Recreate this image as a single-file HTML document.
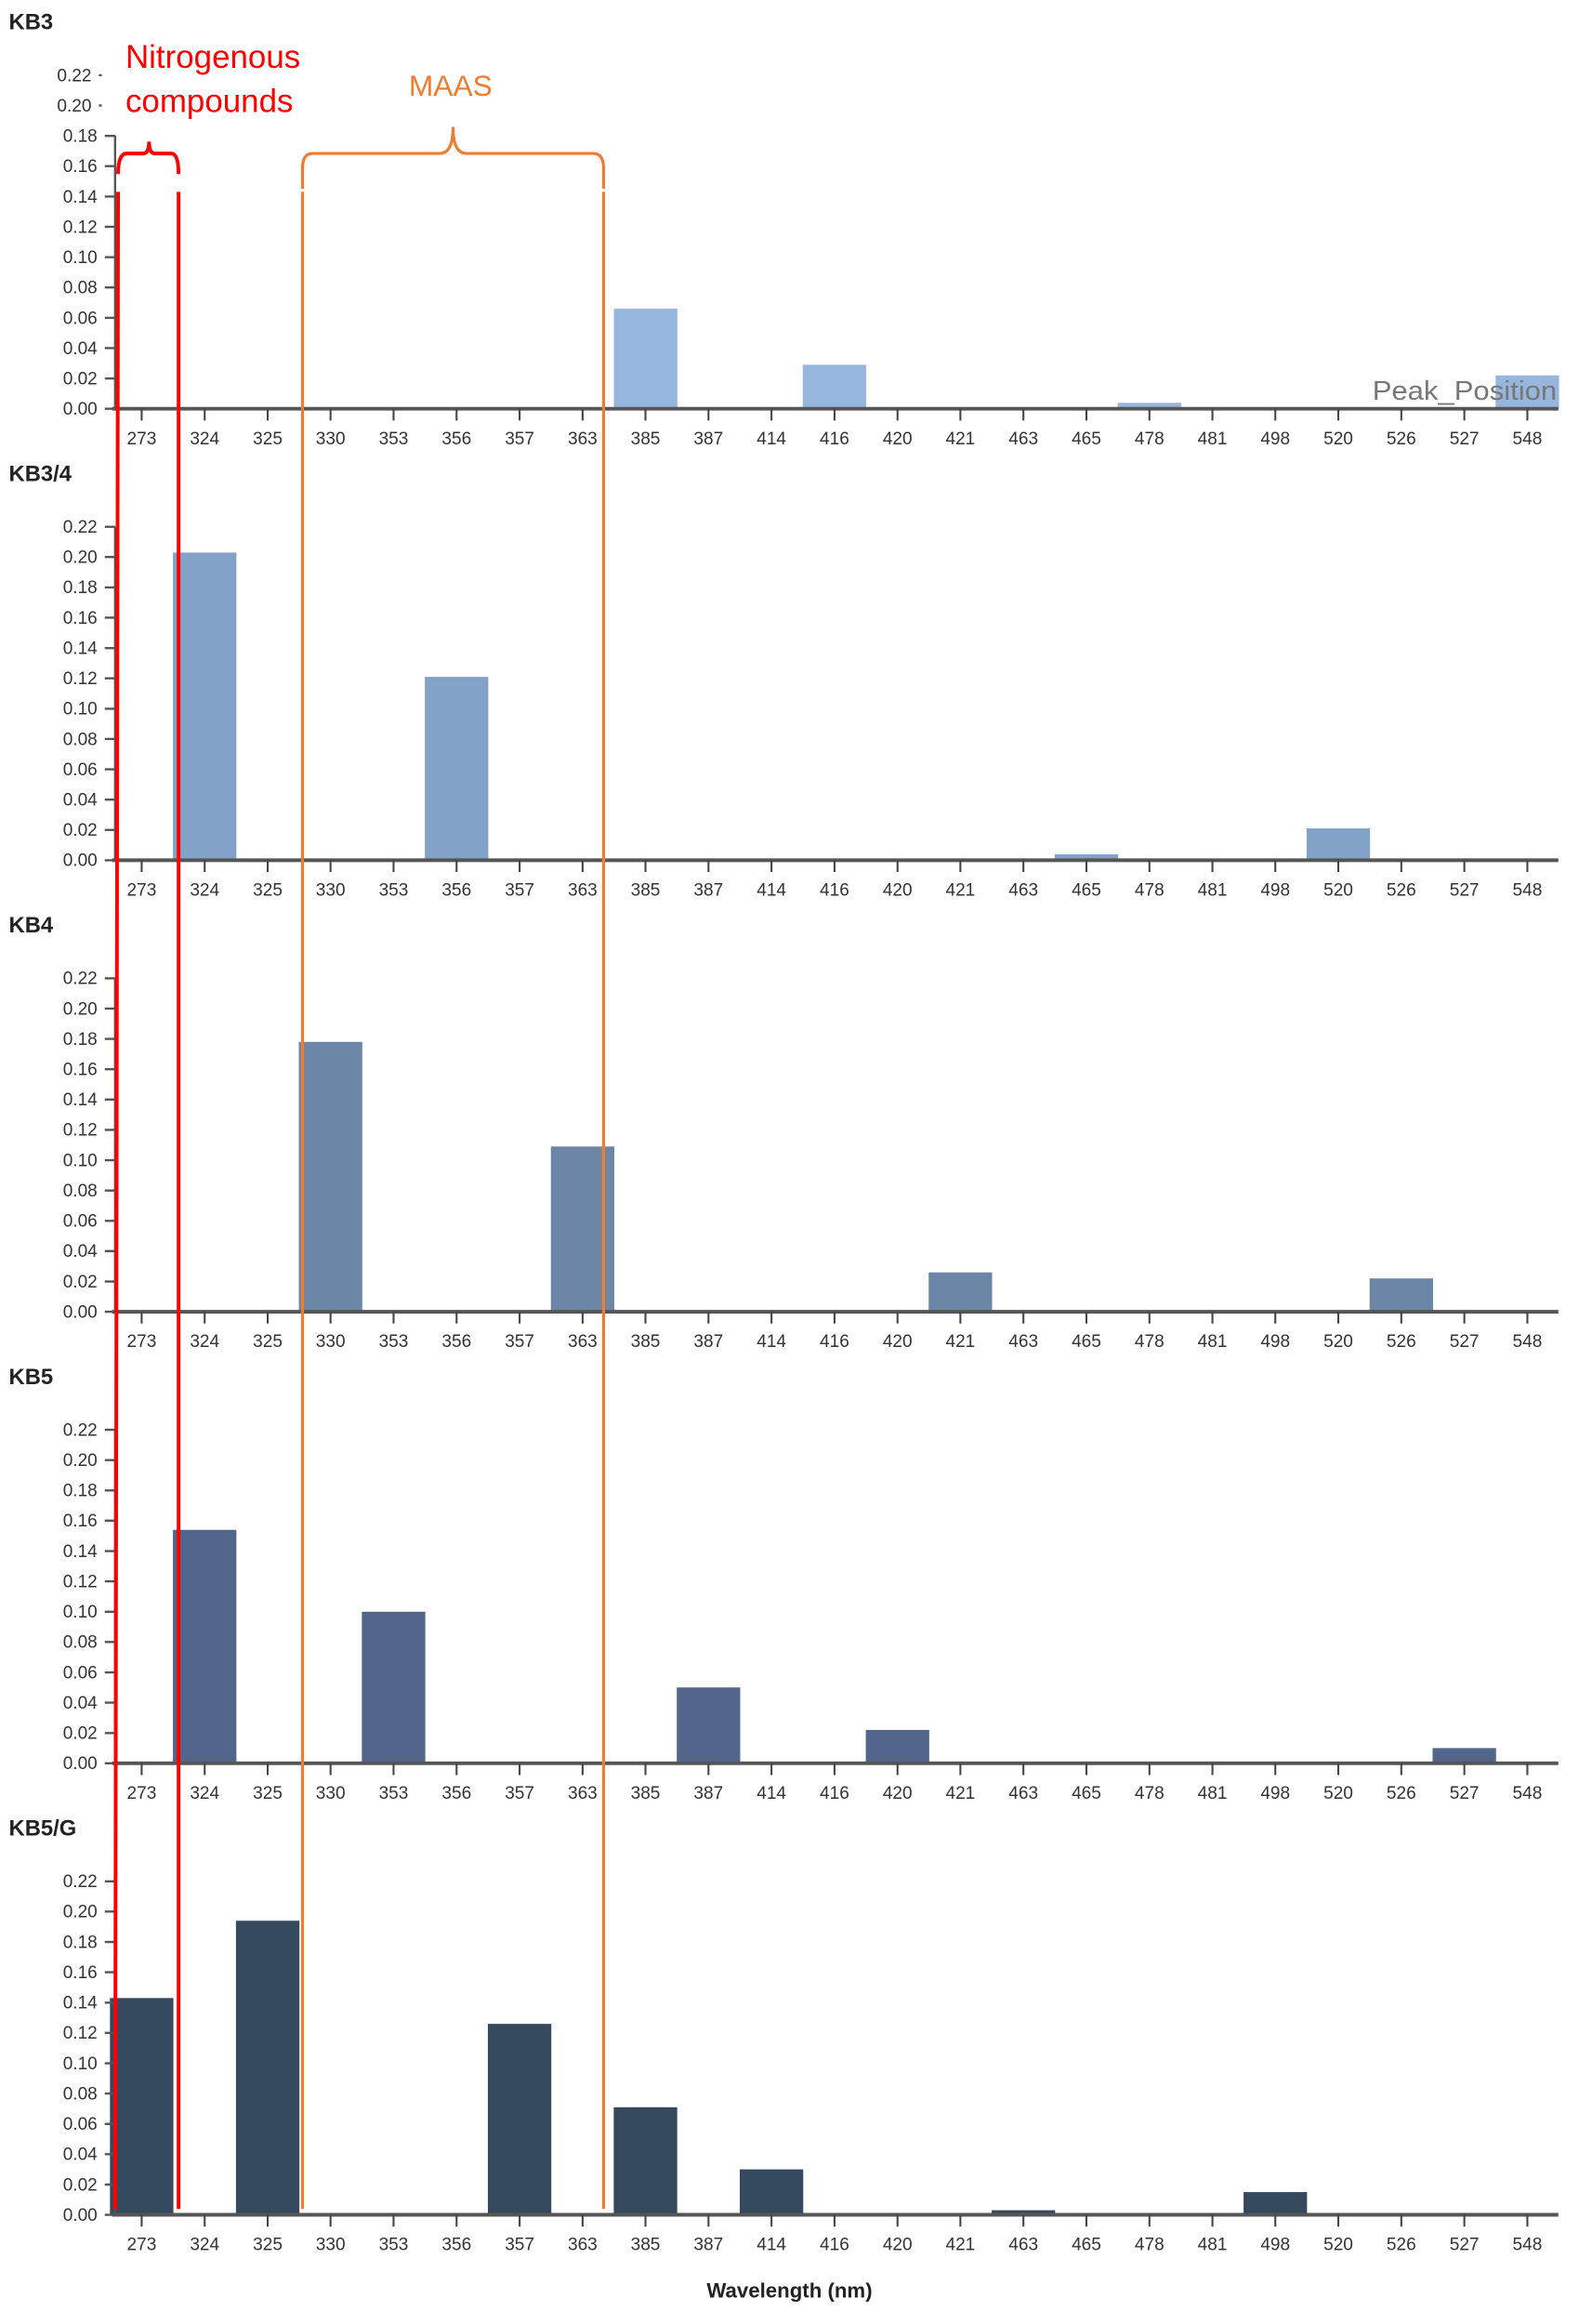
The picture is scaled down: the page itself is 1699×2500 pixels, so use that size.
<!DOCTYPE html>
<html><head><meta charset="utf-8"><style>
html,body{margin:0;padding:0;background:#fff;}
svg{display:block;}
text{font-family:"Liberation Sans",sans-serif;}
.yl{font-size:12px;fill:#333;text-anchor:end;}
.xl{font-size:12px;fill:#333;text-anchor:middle;}
.tt{font-size:15px;fill:#222;font-weight:bold;}
</style></head><body>
<svg width="1699" height="2500" viewBox="0 0 1070 1575" preserveAspectRatio="none" xmlns="http://www.w3.org/2000/svg">
<rect width="1070" height="1575" fill="#fff"/>

<g id="p1">
<text class="tt" x="6" y="20">KB3</text>
<line x1="78" y1="92" x2="78" y2="277" stroke="#555" stroke-width="1.5"/>
<g stroke="#555" stroke-width="1.5">
<line x1="71" y1="277" x2="78" y2="277"/><line x1="71" y1="256.5" x2="78" y2="256.5"/><line x1="71" y1="235.9" x2="78" y2="235.9"/><line x1="71" y1="215.4" x2="78" y2="215.4"/><line x1="71" y1="194.8" x2="78" y2="194.8"/><line x1="71" y1="174.3" x2="78" y2="174.3"/><line x1="71" y1="153.7" x2="78" y2="153.7"/><line x1="71" y1="133.2" x2="78" y2="133.2"/><line x1="71" y1="112.6" x2="78" y2="112.6"/><line x1="71" y1="92.1" x2="78" y2="92.1"/><line x1="67" y1="71.5" x2="69" y2="71.5"/><line x1="67" y1="51" x2="69" y2="51"/>
</g>
<g class="yl"><text x="66" y="281">0.00</text><text x="66" y="260.5">0.02</text><text x="66" y="239.9">0.04</text><text x="66" y="219.4">0.06</text><text x="66" y="198.8">0.08</text><text x="66" y="178.3">0.10</text><text x="66" y="157.7">0.12</text><text x="66" y="137.2">0.14</text><text x="66" y="116.6">0.16</text><text x="66" y="96.1">0.18</text><text x="62" y="75.5">0.20</text><text x="62" y="55">0.22</text></g>
<g fill="#97b6de"><rect x="416" y="209.2" width="43" height="67.8"/><rect x="544" y="247.2" width="43" height="29.8"/><rect x="757.4" y="273" width="43" height="4"/><rect x="1013.5" y="254.4" width="43" height="22.6"/></g>
<text x="930" y="271" textLength="125" lengthAdjust="spacingAndGlyphs" style="font-size:18px;fill:#777">Peak_Position</text>
</g>

<g id="p2" transform="translate(0,306)">
<text class="tt" x="6" y="20">KB3/4</text>
<g fill="#82a2c8"><rect x="117.2" y="68.5" width="43" height="208.5"/><rect x="287.9" y="152.7" width="43" height="124.3"/><rect x="714.7" y="273" width="43" height="4"/><rect x="885.4" y="255.4" width="43" height="21.6"/></g>
</g>
<g id="p3" transform="translate(0,612)">
<text class="tt" x="6" y="20">KB4</text>
<g fill="#6b86a6"><rect x="202.5" y="94.1" width="43" height="182.9"/><rect x="373.3" y="165" width="43" height="112"/><rect x="629.3" y="250.3" width="43" height="26.7"/><rect x="928.1" y="254.4" width="43" height="22.6"/></g>
</g>
<g id="p4" transform="translate(0,918)">
<text class="tt" x="6" y="20">KB5</text>
<g fill="#51668a"><rect x="117.2" y="118.8" width="43" height="158.2"/><rect x="245.2" y="174.3" width="43" height="102.7"/><rect x="458.6" y="225.6" width="43" height="51.4"/><rect x="586.7" y="254.4" width="43" height="22.6"/><rect x="970.8" y="266.7" width="43" height="10.3"/></g>
</g>
<g id="p5" transform="translate(0,1224)">
<text class="tt" x="6" y="20">KB5/G</text>
<g fill="#35495e"><rect x="74.5" y="130.1" width="43" height="146.9"/><rect x="159.9" y="77.7" width="43" height="199.3"/><rect x="330.6" y="147.6" width="43" height="129.4"/><rect x="415.9" y="204.1" width="43" height="72.9"/><rect x="501.3" y="246.2" width="43" height="30.8"/><rect x="672" y="273.9" width="43" height="3.1"/><rect x="842.7" y="261.6" width="43" height="15.4"/></g>
</g>

<g stroke="#555" stroke-width="1.5">
<line x1="78" y1="357" x2="78" y2="583"/><line x1="78" y1="663" x2="78" y2="889"/><line x1="78" y1="969" x2="78" y2="1195"/><line x1="78" y1="1275" x2="78" y2="1501"/>
</g>
<g class="yl">
<text x="66" y="587">0.00</text><text x="66" y="566.5">0.02</text><text x="66" y="545.9">0.04</text><text x="66" y="525.4">0.06</text><text x="66" y="504.8">0.08</text><text x="66" y="484.3">0.10</text><text x="66" y="463.7">0.12</text><text x="66" y="443.2">0.14</text><text x="66" y="422.6">0.16</text><text x="66" y="402.1">0.18</text><text x="66" y="381.5">0.20</text><text x="66" y="361">0.22</text>
<text x="66" y="893">0.00</text><text x="66" y="872.5">0.02</text><text x="66" y="851.9">0.04</text><text x="66" y="831.4">0.06</text><text x="66" y="810.8">0.08</text><text x="66" y="790.3">0.10</text><text x="66" y="769.7">0.12</text><text x="66" y="749.2">0.14</text><text x="66" y="728.6">0.16</text><text x="66" y="708.1">0.18</text><text x="66" y="687.5">0.20</text><text x="66" y="667">0.22</text>
<text x="66" y="1199">0.00</text><text x="66" y="1178.5">0.02</text><text x="66" y="1157.9">0.04</text><text x="66" y="1137.4">0.06</text><text x="66" y="1116.8">0.08</text><text x="66" y="1096.3">0.10</text><text x="66" y="1075.7">0.12</text><text x="66" y="1055.2">0.14</text><text x="66" y="1034.6">0.16</text><text x="66" y="1014.1">0.18</text><text x="66" y="993.5">0.20</text><text x="66" y="973">0.22</text>
<text x="66" y="1505">0.00</text><text x="66" y="1484.5">0.02</text><text x="66" y="1463.9">0.04</text><text x="66" y="1443.4">0.06</text><text x="66" y="1422.8">0.08</text><text x="66" y="1402.3">0.10</text><text x="66" y="1381.7">0.12</text><text x="66" y="1361.2">0.14</text><text x="66" y="1340.6">0.16</text><text x="66" y="1320.1">0.18</text><text x="66" y="1299.5">0.20</text><text x="66" y="1279">0.22</text>
</g>
<g stroke="#555" stroke-width="1.5">
<path d="M71 583h7M71 562.5h7M71 541.9h7M71 521.4h7M71 500.8h7M71 480.3h7M71 459.7h7M71 439.2h7M71 418.6h7M71 398.1h7M71 377.5h7M71 357h7"/>
<path d="M71 889h7M71 868.5h7M71 847.9h7M71 827.4h7M71 806.8h7M71 786.3h7M71 765.7h7M71 745.2h7M71 724.6h7M71 704.1h7M71 683.5h7M71 663h7"/>
<path d="M71 1195h7M71 1174.5h7M71 1153.9h7M71 1133.4h7M71 1112.8h7M71 1092.3h7M71 1071.7h7M71 1051.2h7M71 1030.6h7M71 1010.1h7M71 989.5h7M71 969h7"/>
<path d="M71 1501h7M71 1480.5h7M71 1459.9h7M71 1439.4h7M71 1418.8h7M71 1398.3h7M71 1377.7h7M71 1357.2h7M71 1336.6h7M71 1316.1h7M71 1295.5h7M71 1275h7"/>
</g>

<g stroke="#555" stroke-width="2.5">
<line x1="76" y1="277" x2="1056" y2="277"/><line x1="76" y1="583" x2="1056" y2="583"/><line x1="76" y1="889" x2="1056" y2="889"/><line x1="76" y1="1195" x2="1056" y2="1195"/><line x1="76" y1="1501" x2="1056" y2="1501"/>
</g>
<g stroke="#444" stroke-width="1.3">
<path d="M96 277v8M138.7 277v8M181.4 277v8M224 277v8M266.7 277v8M309.4 277v8M352.1 277v8M394.8 277v8M437.4 277v8M480.1 277v8M522.8 277v8M565.5 277v8M608.2 277v8M650.8 277v8M693.5 277v8M736.2 277v8M778.9 277v8M821.6 277v8M864.2 277v8M906.9 277v8M949.6 277v8M992.3 277v8M1035 277v8"/>
<path d="M96 583v8M138.7 583v8M181.4 583v8M224 583v8M266.7 583v8M309.4 583v8M352.1 583v8M394.8 583v8M437.4 583v8M480.1 583v8M522.8 583v8M565.5 583v8M608.2 583v8M650.8 583v8M693.5 583v8M736.2 583v8M778.9 583v8M821.6 583v8M864.2 583v8M906.9 583v8M949.6 583v8M992.3 583v8M1035 583v8"/>
<path d="M96 889v8M138.7 889v8M181.4 889v8M224 889v8M266.7 889v8M309.4 889v8M352.1 889v8M394.8 889v8M437.4 889v8M480.1 889v8M522.8 889v8M565.5 889v8M608.2 889v8M650.8 889v8M693.5 889v8M736.2 889v8M778.9 889v8M821.6 889v8M864.2 889v8M906.9 889v8M949.6 889v8M992.3 889v8M1035 889v8"/>
<path d="M96 1195v8M138.7 1195v8M181.4 1195v8M224 1195v8M266.7 1195v8M309.4 1195v8M352.1 1195v8M394.8 1195v8M437.4 1195v8M480.1 1195v8M522.8 1195v8M565.5 1195v8M608.2 1195v8M650.8 1195v8M693.5 1195v8M736.2 1195v8M778.9 1195v8M821.6 1195v8M864.2 1195v8M906.9 1195v8M949.6 1195v8M992.3 1195v8M1035 1195v8"/>
<path d="M96 1501v8M138.7 1501v8M181.4 1501v8M224 1501v8M266.7 1501v8M309.4 1501v8M352.1 1501v8M394.8 1501v8M437.4 1501v8M480.1 1501v8M522.8 1501v8M565.5 1501v8M608.2 1501v8M650.8 1501v8M693.5 1501v8M736.2 1501v8M778.9 1501v8M821.6 1501v8M864.2 1501v8M906.9 1501v8M949.6 1501v8M992.3 1501v8M1035 1501v8"/>
</g>
<g class="xl">
<text x="96" y="301">273</text><text x="138.7" y="301">324</text><text x="181.4" y="301">325</text><text x="224" y="301">330</text><text x="266.7" y="301">353</text><text x="309.4" y="301">356</text><text x="352.1" y="301">357</text><text x="394.8" y="301">363</text><text x="437.4" y="301">385</text><text x="480.1" y="301">387</text><text x="522.8" y="301">414</text><text x="565.5" y="301">416</text><text x="608.2" y="301">420</text><text x="650.8" y="301">421</text><text x="693.5" y="301">463</text><text x="736.2" y="301">465</text><text x="778.9" y="301">478</text><text x="821.6" y="301">481</text><text x="864.2" y="301">498</text><text x="906.9" y="301">520</text><text x="949.6" y="301">526</text><text x="992.3" y="301">527</text><text x="1035" y="301">548</text>
<text x="96" y="607">273</text><text x="138.7" y="607">324</text><text x="181.4" y="607">325</text><text x="224" y="607">330</text><text x="266.7" y="607">353</text><text x="309.4" y="607">356</text><text x="352.1" y="607">357</text><text x="394.8" y="607">363</text><text x="437.4" y="607">385</text><text x="480.1" y="607">387</text><text x="522.8" y="607">414</text><text x="565.5" y="607">416</text><text x="608.2" y="607">420</text><text x="650.8" y="607">421</text><text x="693.5" y="607">463</text><text x="736.2" y="607">465</text><text x="778.9" y="607">478</text><text x="821.6" y="607">481</text><text x="864.2" y="607">498</text><text x="906.9" y="607">520</text><text x="949.6" y="607">526</text><text x="992.3" y="607">527</text><text x="1035" y="607">548</text>
<text x="96" y="913">273</text><text x="138.7" y="913">324</text><text x="181.4" y="913">325</text><text x="224" y="913">330</text><text x="266.7" y="913">353</text><text x="309.4" y="913">356</text><text x="352.1" y="913">357</text><text x="394.8" y="913">363</text><text x="437.4" y="913">385</text><text x="480.1" y="913">387</text><text x="522.8" y="913">414</text><text x="565.5" y="913">416</text><text x="608.2" y="913">420</text><text x="650.8" y="913">421</text><text x="693.5" y="913">463</text><text x="736.2" y="913">465</text><text x="778.9" y="913">478</text><text x="821.6" y="913">481</text><text x="864.2" y="913">498</text><text x="906.9" y="913">520</text><text x="949.6" y="913">526</text><text x="992.3" y="913">527</text><text x="1035" y="913">548</text>
<text x="96" y="1219">273</text><text x="138.7" y="1219">324</text><text x="181.4" y="1219">325</text><text x="224" y="1219">330</text><text x="266.7" y="1219">353</text><text x="309.4" y="1219">356</text><text x="352.1" y="1219">357</text><text x="394.8" y="1219">363</text><text x="437.4" y="1219">385</text><text x="480.1" y="1219">387</text><text x="522.8" y="1219">414</text><text x="565.5" y="1219">416</text><text x="608.2" y="1219">420</text><text x="650.8" y="1219">421</text><text x="693.5" y="1219">463</text><text x="736.2" y="1219">465</text><text x="778.9" y="1219">478</text><text x="821.6" y="1219">481</text><text x="864.2" y="1219">498</text><text x="906.9" y="1219">520</text><text x="949.6" y="1219">526</text><text x="992.3" y="1219">527</text><text x="1035" y="1219">548</text>
<text x="96" y="1525">273</text><text x="138.7" y="1525">324</text><text x="181.4" y="1525">325</text><text x="224" y="1525">330</text><text x="266.7" y="1525">353</text><text x="309.4" y="1525">356</text><text x="352.1" y="1525">357</text><text x="394.8" y="1525">363</text><text x="437.4" y="1525">385</text><text x="480.1" y="1525">387</text><text x="522.8" y="1525">414</text><text x="565.5" y="1525">416</text><text x="608.2" y="1525">420</text><text x="650.8" y="1525">421</text><text x="693.5" y="1525">463</text><text x="736.2" y="1525">465</text><text x="778.9" y="1525">478</text><text x="821.6" y="1525">481</text><text x="864.2" y="1525">498</text><text x="906.9" y="1525">520</text><text x="949.6" y="1525">526</text><text x="992.3" y="1525">527</text><text x="1035" y="1525">548</text>
</g>
<text x="535" y="1557" style="font-size:14px;font-weight:bold;fill:#222;text-anchor:middle">Wavelength (nm)</text>

<g stroke="#ff0000" stroke-width="2.5" fill="none">
<line x1="80" y1="130" x2="78" y2="1497"/><line x1="121" y1="130" x2="121" y2="1497"/>
<path d="M80 118 Q80 104 86 104 L97 104 Q101 104 101 96 Q101 104 105 104 L116 104 Q121 104 121 118"/>
</g>
<g stroke="#ed7d31" stroke-width="2" fill="none">
<line x1="205" y1="130" x2="205" y2="1497"/><line x1="409" y1="130" x2="409" y2="1497"/>
<path d="M205 128 L205 114 Q205 104 212 104 L298 104 Q307 104 307 86 Q307 104 316 104 L402 104 Q409 104 409 114 L409 128"/>
</g>
<text x="85" y="46" style="font-size:22px;fill:#ff0000">Nitrogenous</text>
<text x="85" y="76" style="font-size:22px;fill:#ff0000">compounds</text>
<text x="277" y="65" style="font-size:20px;fill:#ed7d31">MAAS</text>
</svg>
</body></html>
